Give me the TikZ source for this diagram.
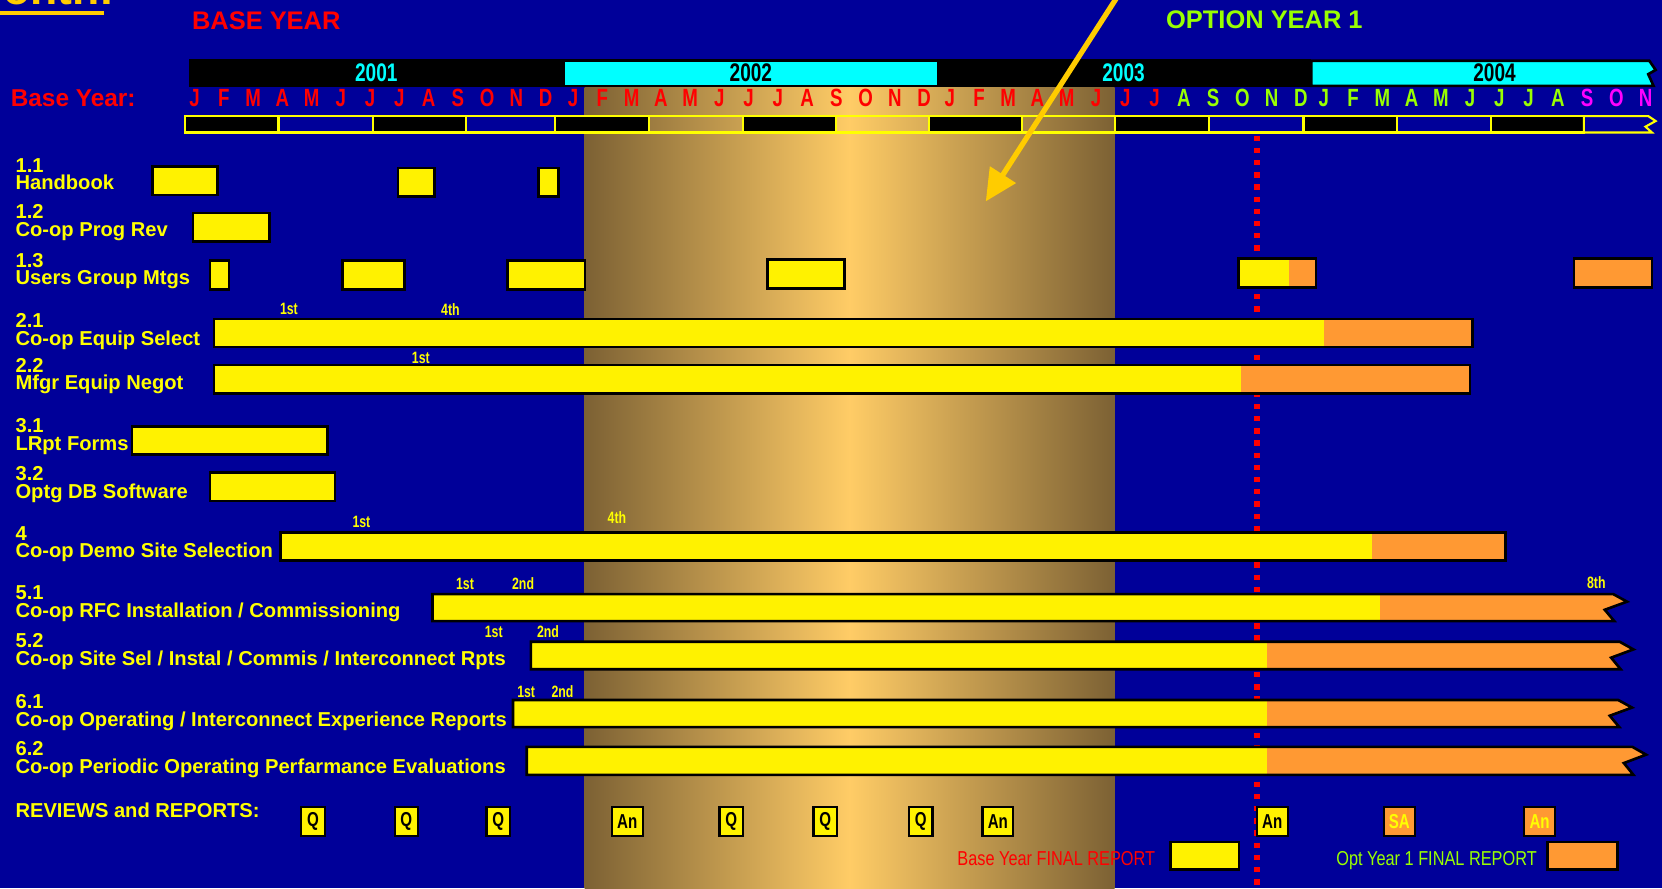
\documentclass[tikz,border=0pt]{standalone}
\usepackage{fontspec}
\setmainfont{Liberation Sans}
\newfontfamily\nbfont{Liberation Sans}[FakeStretch=0.75]
\newfontfamily\nrfont{Liberation Sans}[FakeStretch=0.81]
\usetikzlibrary{arrows.meta}
\definecolor{bg}{RGB}{0,0,153}
\definecolor{barY}{RGB}{255,242,0}
\definecolor{barO}{RGB}{255,153,51}
\definecolor{labY}{RGB}{255,255,0}
\definecolor{goldc}{RGB}{255,204,0}
\definecolor{mred}{RGB}{255,0,0}
\definecolor{mgreen}{RGB}{153,255,0}
\definecolor{mmag}{RGB}{255,0,255}
\definecolor{cyanc}{RGB}{0,255,255}
\definecolor{gdark}{RGB}{124,97,52}
\definecolor{glight}{RGB}{255,204,102}
\tikzset{
  lbl/.style={anchor=base west, inner sep=0pt, text=labY, font=\bfseries\fontsize{19}{19}\selectfont},
  smalllbl/.style={inner sep=0pt, text=labY, font=\nbfont\bfseries\fontsize{15.5}{15.5}\selectfont},
  mon/.style={inner sep=0pt, font=\nbfont\bfseries\fontsize{23.5}{23.5}\selectfont},
  yrlbl/.style={inner sep=0pt, font=\nbfont\bfseries\fontsize{24}{24}\selectfont},
  title/.style={inner sep=0pt, anchor=west, font=\bfseries\fontsize{24}{24}\selectfont},
  revbox/.style={draw=black, line width=2pt, fill=barY, minimum height=27pt, inner sep=0pt, font=\nbfont\bfseries\fontsize{19}{19}\selectfont},
  legtext/.style={inner sep=0pt, anchor=base east, font=\nrfont\fontsize{19}{19}\selectfont},
  legbox/.style={draw=black, line width=2.5pt, minimum height=26pt, inner sep=0pt},
  barline/.style={draw=black, line width=2.5pt, line join=miter},
  rulerline/.style={draw=labY, line width=2pt},
}
\newcommand\gbar[4]{\filldraw[barline, fill=barY] (#1,#3) rectangle (#2,#4);}
\newcommand\gbarO[4]{\filldraw[barline, fill=barO] (#1,#3) rectangle (#2,#4);}
\newcommand\gbarYO[5]{%
  \fill[barY] (#1,#4) rectangle (#2,#5);
  \fill[barO] (#2,#4) rectangle (#3,#5);
  \draw[barline] (#1,#4) rectangle (#3,#5);}
\newcommand\gflag[5]{%
  \pgfmathsetmacro\fya{#4+0.28*(#5-#4)}%
  \pgfmathsetmacro\fyb{#4+0.58*(#5-#4)}%
  \fill[barO] (#1,#4) -- (#3,#4) -- (#3+13,\fya) -- (#3-8,\fyb) -- (#3+1,#5) -- (#1,#5) -- cycle;
  \fill[barY] (#1,#4) rectangle (#2,#5);
  \draw[barline] (#1,#4) -- (#3,#4) -- (#3+13,\fya) -- (#3-8,\fyb) -- (#3+1,#5) -- (#1,#5) -- cycle;}
\newcommand\monthrow[3]{%
  \foreach \L/\c [count=\i from 0] in {#3} {\node[mon, text=\c] (#1-\i) at (#2+\i*27.6, 92.8) {\L};}}
\newcommand\tasklbl[5]{%
  \node[lbl] (#1a) at (14.5,#2+6.8) {#3};
  \node[lbl] (#1b) at (14.5,#4+6.8) {#5};}
\begin{document}
\begin{tikzpicture}[x=1pt,y=-1pt]
\useasboundingbox (0,0) rectangle (1568,838);
\clip (0,0) rectangle (1568,838);
\fill[bg] (0,0) rectangle (1568,838);
% cropped title
\node[inner sep=0pt, anchor=base east, text=goldc, font=\bfseries\fontsize{42}{42}\selectfont] (ttl) at (108,3.8) {Month:};
\fill[goldc] (0,10.4) rectangle (98,14.5);
% headings
\node[title, text=mred] (base) at (181,19.5) {BASE YEAR};
\node[title, text=mgreen] (opt) at (1100,18.9) {OPTION YEAR 1};
% year bar
\fill[black] (178,56) rectangle (1237,82.4);
\fill[cyanc] (533,58.3) rectangle (884,80.2);
\filldraw[fill=cyanc, draw=black, line width=2.5pt, line join=miter] (1237,57.3) -- (1556,57.3) -- (1562,66) -- (1555,70) -- (1560,81) -- (1237,81) -- cycle;
\node[yrlbl, text=cyanc] (y1) at (355,68.4) {2001};
\node[yrlbl, text=black] (y2) at (708.4,68.4) {2002};
\node[yrlbl, text=cyanc] (y3) at (1060,68.4) {2003};
\node[yrlbl, text=black] (y4) at (1410,68.4) {2004};
% gradient column
\shade[left color=gdark, right color=gdark, middle color=glight] (551.5,82.4) rectangle (1051.6,838);
% months
\node[inner sep=0pt, anchor=west, text=mred, font=\bfseries\fontsize{23}{23}\selectfont] (by) at (10,92.8) {Base Year:};
\monthrow{ma}{183.6}{J/mred,F/mred,M/mred,A/mred,M/mred,J/mred,J/mred,J/mred,A/mred,S/mred,O/mred,N/mred,D/mred}
\monthrow{mb}{540.7}{J/mred,F/mred,M/mred,A/mred,M/mred,J/mred,J/mred,J/mred,A/mred,S/mred,O/mred,N/mred,D/mred}
\monthrow{mc}{896}{J/mred,F/mred,M/mred,A/mred,M/mred,J/mred,J/mred,J/mred,A/mgreen,S/mgreen,O/mgreen,N/mgreen,D/mgreen}
\monthrow{md}{1249}{J/mgreen,F/mgreen,M/mgreen,A/mgreen,M/mgreen,J/mgreen,J/mgreen,J/mgreen,A/mgreen,S/mmag,O/mmag,N/mmag}
% ruler
\foreach \a/\b in {174.5/262.8,352/439.8,523.6/612.3,700.8/788.4,876.4/964.2,1052/1140.9,1229.8/1317.7,1406.3/1494.3}
  {\filldraw[rulerline, fill=black] (\a,109.5) rectangle (\b,125);}
\foreach \a/\b in {262.8/352,439.8/523.6,612.3/700.8,788.4/876.4,964.2/1052,1140.9/1229.8,1317.7/1406.3}
  {\draw[rulerline] (\a,109.5) rectangle (\b,125);}
\draw[rulerline, line join=miter] (1494.3,109.5) -- (1555,109.5) -- (1562,114.2) -- (1552.4,119.5) -- (1558.5,125) -- (1494.3,125) -- cycle;
% red dotted line
\coordinate (dotT) at (1186,128);
\coordinate (dotB) at (1186,840);
\draw[mred, line width=5pt, dash pattern=on 5pt off 6.5pt] (dotT) -- (dotB);
% task labels
\tasklbl{t11}{155.7}{1.1}{172.3}{Handbook}
\tasklbl{t12}{199}{1.2}{216}{Co-op Prog Rev}
\tasklbl{t13}{245.3}{1.3}{262}{Users Group Mtgs}
\tasklbl{t21}{302}{2.1}{319}{Co-op Equip Select}
\tasklbl{t22}{344.3}{2.2}{361}{Mfgr Equip Negot}
\tasklbl{t31}{401}{3.1}{418.2}{LRpt Forms}
\tasklbl{t32}{446.5}{3.2}{463.8}{Optg DB Software}
\tasklbl{t4}{503}{4}{519}{Co-op Demo Site Selection}
\tasklbl{t51}{559}{5.1}{575.5}{Co-op RFC Installation / Commissioning}
\tasklbl{t52}{603.8}{5.2}{621}{Co-op Site Sel / Instal / Commis / Interconnect Rpts}
\tasklbl{t61}{662}{6.1}{678.6}{Co-op Operating / Interconnect Experience Reports}
\tasklbl{t62}{706}{6.2}{722.6}{Co-op Periodic Operating Perfarmance Evaluations}
% bars
\gbar{144}{205}{157.2}{184}
\gbar{375.5}{410}{158.5}{185.5}
\gbar{508}{527}{158.5}{185.5}
\gbar{182}{254}{201}{228}
\gbar{198}{216}{246}{273}
\gbar{323}{381.5}{246}{273}
\gbar{479}{552}{246}{273}
\gbar{724}{797}{244.6}{272}
\gbarYO{1168.6}{1216}{1241.5}{243.7}{271}
\gbarO{1485}{1558.5}{243.7}{271}
\gbarYO{202}{1249}{1389}{301}{327.5}
\gbarYO{202}{1171}{1387}{344.5}{371.5}
\gbar{124.6}{308.7}{402.5}{429}
\gbar{198}{316}{446}{472.6}
\gbarYO{264.6}{1294}{1420.5}{502.5}{529}
\gflag{408}{1302}{1522}{560.5}{586}
\gflag{500.8}{1195}{1528}{605.4}{631.4}
\gflag{484}{1195}{1526.7}{660.4}{686}
\gflag{497}{1195}{1540}{704.6}{731}
% small labels
\node[smalllbl] (s21a) at (272.6,291.7) {1st};
\node[smalllbl] (s21b) at (425,291.7) {4th};
\node[smalllbl] (s22a) at (397,338) {1st};
\node[smalllbl] (s4a) at (341,492) {1st};
\node[smalllbl] (s4b) at (582,488) {4th};
\node[smalllbl] (s51a) at (438.7,551) {1st};
\node[smalllbl] (s51b) at (493.5,551) {2nd};
\node[smalllbl] (s51c) at (1506,549.7) {8th};
\node[smalllbl] (s52a) at (465.8,596) {1st};
\node[smalllbl] (s52b) at (517,596) {2nd};
\node[smalllbl] (s61a) at (496.4,652.5) {1st};
\node[smalllbl] (s61b) at (530.7,652.5) {2nd};
% arrow
\coordinate (arrS) at (1056,-6);
\coordinate (arrE) at (930,190);
\draw[goldc, line width=5pt, -{Triangle[length=30pt,width=28pt]}] (arrS) -- (arrE);
% reviews
\node[lbl] (rev) at (14.5,771) {REVIEWS and REPORTS:};
\node[revbox, minimum width=22pt] (r1) at (295.3,775) {Q};
\node[revbox, minimum width=22pt] (r2) at (383.3,775) {Q};
\node[revbox, minimum width=22pt] (r3) at (470,775) {Q};
\node[revbox, minimum width=29pt] (r4) at (591.8,775) {An};
\node[revbox, minimum width=22pt] (r5) at (689.8,775) {Q};
\node[revbox, minimum width=22pt] (r6) at (778.5,775) {Q};
\node[revbox, minimum width=22pt] (r7) at (868.7,775) {Q};
\node[revbox, minimum width=29pt] (r8) at (941.4,775) {An};
\node[revbox, minimum width=29pt] (r9) at (1200.3,775) {An};
\node[revbox, minimum width=29pt, fill=barO, text=labY] (r10) at (1320.2,775) {SA};
\node[revbox, minimum width=29pt, fill=barO, text=labY] (r11) at (1452.5,775) {An};
% legend
\node[legtext, text=mred] (legYt) at (1090,816.8) {Base Year FINAL REPORT};
\node[legbox, fill=barY, minimum width=65pt] (legY) at (1136.5,807.5) {};
\node[legtext, text=mgreen] (legOt) at (1450,816.8) {Opt Year 1 FINAL REPORT};
\node[legbox, fill=barO, minimum width=66pt] (legO) at (1493,807.5) {};
\end{tikzpicture}
\end{document}
